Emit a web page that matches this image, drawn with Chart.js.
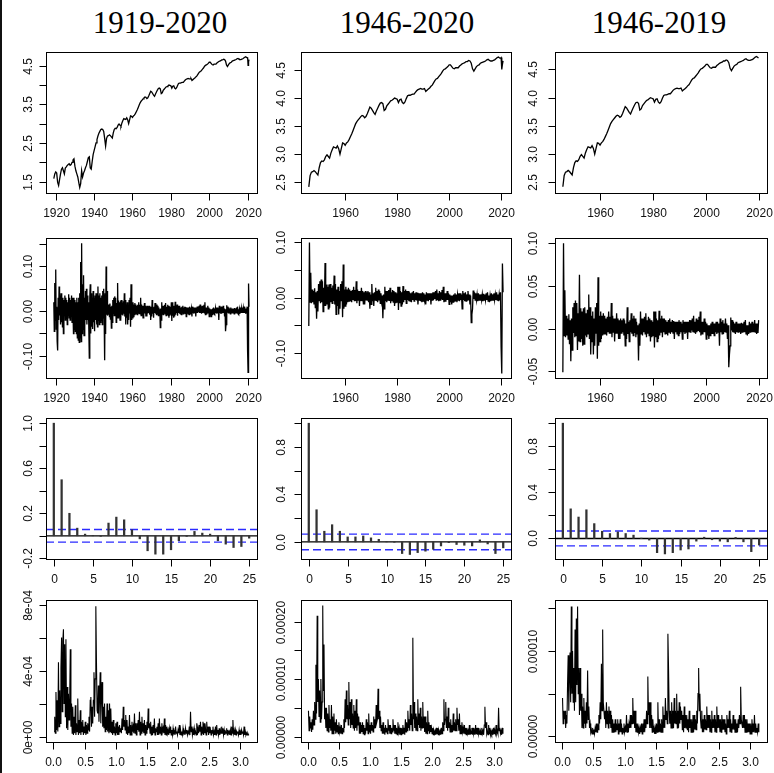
<!DOCTYPE html>
<html>
<head>
<meta charset="utf-8">
<script src="https://cdn.jsdelivr.net/npm/chart.js@4.4.1/dist/chart.umd.min.js"></script>
<style>
  body { margin: 0; background: #fff; width: 774px; height: 773px; position: relative; overflow: hidden; }
  .title { position: absolute; top: 7px; width: 200px; text-align: center; font: 31px "Liberation Serif", "Times New Roman", serif; line-height: 31px; color: #000; }
  canvas { position: absolute; }
  #edge { position: absolute; left: 0; top: 0; width: 2px; height: 773px; background: #111; }
</style>
</head>
<body>
<div id="edge"></div>
<div class="title" style="left:60px">1919-2020</div>
<div class="title" style="left:307px">1946-2020</div>
<div class="title" style="left:559px">1946-2019</div>
<script>
// log industrial production, half-yearly readings 1919.0 - 2019.5
const ipStart = 1919, ipStep = 0.5;
const logIP = [
  1.58,1.70,1.75,1.72,1.48,1.40,1.55,1.70,1.82,1.86,1.78,1.70,1.85,1.88,1.92,1.94,1.96,1.92,1.94,2.00,
  2.06,2.09,1.90,1.78,1.70,1.62,1.48,1.35,1.45,1.78,1.62,1.72,1.78,1.86,1.92,2.02,2.12,2.14,1.85,1.82,
  2.02,2.20,2.30,2.40,2.50,2.59,2.68,2.75,2.80,2.85,2.86,2.85,2.80,2.62,2.42,2.62,2.68,2.69,2.71,2.69,
  2.66,2.63,2.76,2.85,2.88,2.87,2.90,2.96,2.99,2.96,2.93,3.02,3.08,3.13,3.12,3.11,3.15,3.10,3.00,3.10,
  3.20,3.19,3.16,3.20,3.22,3.26,3.31,3.36,3.42,3.48,3.54,3.58,3.61,3.64,3.67,3.69,3.68,3.65,3.67,3.72,
  3.78,3.84,3.82,3.78,3.74,3.71,3.77,3.82,3.87,3.91,3.92,3.90,3.78,3.80,3.86,3.89,3.92,3.95,3.96,3.98,
  4.00,3.99,3.98,3.92,3.97,3.98,3.92,3.90,3.93,3.99,4.04,4.05,4.05,4.06,4.07,4.07,4.10,4.13,4.15,4.16,
  4.17,4.16,4.16,4.17,4.12,4.14,4.16,4.18,4.21,4.23,4.27,4.31,4.34,4.35,4.38,4.41,4.44,4.48,4.51,4.52,
  4.54,4.56,4.59,4.59,4.56,4.53,4.52,4.54,4.54,4.54,4.57,4.59,4.61,4.62,4.63,4.65,4.65,4.67,4.66,4.62,
  4.52,4.48,4.52,4.56,4.58,4.59,4.62,4.63,4.64,4.65,4.66,4.68,4.69,4.67,4.66,4.66,4.67,4.68,4.70,4.72,
  4.73,4.71
];
// the 2020 drop needs quarterly detail
const logIPTailYears = [2019.75, 2020.0, 2020.25, 2020.5, 2020.75];
const logIPTail = [4.71, 4.72, 4.51, 4.60, 4.66];

// growth rates, quarterly readings
const growthStep = 0.25;
const growth1919 = [ // 1919.0 - 1945.75
  0.020,-0.045,0.063,-0.020,  0.093,-0.040,0.010,-0.068,  -0.088,0.030,-0.020,0.055,
  -0.010,0.035,-0.030,0.040,  -0.025,0.020,-0.035,0.030,  -0.050,0.025,-0.010,0.035,
  -0.020,0.030,-0.015,0.025,  -0.030,0.020,-0.010,0.038,  -0.015,0.030,-0.020,0.025,
  -0.010,0.035,-0.025,0.030,  0.020,-0.050,0.030,-0.040,  0.025,-0.045,0.020,-0.050,
  0.030,-0.060,0.020,-0.065,  0.030,-0.070,0.040,-0.060,  0.110,-0.068,0.152,-0.050,
  0.060,-0.040,0.080,-0.055,  0.030,-0.035,0.045,-0.020,  0.050,-0.030,0.035,-0.020,
  0.020,-0.040,-0.105,0.030,  0.060,-0.050,0.040,-0.035,  0.030,-0.040,0.045,-0.025,
  0.030,-0.045,0.035,-0.020,  0.040,-0.030,0.025,-0.035,  0.055,-0.020,0.035,-0.030,
  0.040,-0.025,0.030,-0.020,  0.035,-0.030,0.045,-0.015,  0.050,-0.020,-0.110,0.040
];
const growth1946 = [ // 1946.0 - 2020.75
  -0.051,0.100,-0.008,0.045,  -0.010,0.015,-0.008,0.012,  -0.012,0.017,-0.018,0.010,
  -0.038,0.012,-0.025,0.025,  -0.005,0.030,-0.010,0.033,  -0.008,0.030,-0.025,0.018,
  -0.015,0.063,-0.015,0.024,  -0.012,0.020,-0.020,0.024,  -0.018,0.025,-0.008,0.018,
  -0.010,0.022,-0.006,0.040,  -0.012,0.025,-0.030,0.015,  -0.015,0.020,-0.030,0.012,
  -0.020,0.025,-0.005,0.030,  -0.035,0.060,-0.020,0.015,  -0.015,0.020,-0.012,0.015,
  -0.008,0.018,-0.006,0.015,  -0.006,0.012,-0.008,0.014,  -0.004,0.020,-0.005,0.014,
  -0.006,0.030,-0.010,0.015,  -0.004,0.012,-0.015,0.012,  -0.006,0.018,-0.005,0.012,
  -0.012,0.010,-0.012,0.012,  -0.005,0.010,-0.004,0.012,  -0.008,0.010,-0.020,0.006,
  -0.012,0.025,-0.006,0.008,  -0.015,0.010,-0.004,0.018,  -0.006,0.012,-0.008,0.015,
  -0.005,0.012,-0.010,0.008,  -0.006,0.004,-0.037,0.006,  -0.020,0.020,-0.006,0.012,
  -0.008,0.012,-0.004,0.014,  -0.006,0.018,-0.010,0.010,  -0.006,0.014,-0.008,0.012,
  -0.015,0.010,-0.010,0.008,  -0.008,0.020,-0.022,0.020,  -0.010,0.012,-0.015,0.010,
  -0.012,0.021,-0.008,0.012,  -0.004,0.015,-0.010,0.012,  -0.004,0.012,-0.006,0.010,
  -0.006,0.008,-0.008,0.010,  -0.004,0.012,-0.006,0.008,  -0.004,0.010,-0.005,0.009,
  -0.012,0.008,-0.004,0.008,  -0.006,0.008,-0.008,0.010,  -0.006,0.008,-0.004,0.006,
  -0.012,0.010,-0.004,0.008,  -0.006,0.008,-0.004,0.008,  -0.012,0.008,-0.004,0.010,
  -0.004,0.010,-0.002,0.012,  -0.004,0.015,-0.004,0.008,  -0.006,0.012,-0.004,0.010,
  -0.002,0.014,-0.004,0.020,  -0.008,0.008,-0.006,0.008,  -0.004,0.012,-0.004,0.008,
  -0.012,0.006,-0.008,0.004,  -0.012,0.004,-0.008,0.006,  -0.006,0.008,-0.006,0.006,
  -0.008,0.006,-0.004,0.008,  -0.006,0.008,-0.004,0.006,  -0.020,0.012,-0.004,0.008,
  -0.006,0.010,-0.006,0.006,  -0.004,0.012,-0.004,0.006,  -0.012,0.004,-0.045,-0.030,
  -0.020,0.013,-0.002,0.010,  -0.004,0.008,-0.004,0.006,  -0.006,0.008,-0.004,0.006,
  -0.004,0.006,-0.004,0.006,  -0.006,0.007,-0.004,0.006,  -0.004,0.008,-0.004,0.010,
  -0.006,0.004,-0.008,0.004,  -0.006,0.008,-0.004,0.006,  -0.004,0.008,-0.004,0.006,
  -0.004,0.010,-0.004,0.006,  -0.006,0.006,-0.005,0.010,  -0.090,-0.137,0.062,0.010
];

// sample autocorrelations, lags 0..25
const lags = [0,1,2,3,4,5,6,7,8,9,10,11,12,13,14,15,16,17,18,19,20,21,22,23,24,25];
const acf1919 = [1.0,0.498,0.20,0.068,0.015,0.003,-0.005,0.113,0.166,0.142,0.053,-0.027,-0.133,
  -0.163,-0.163,-0.124,-0.044,-0.005,0.039,0.024,0.015,-0.044,-0.074,-0.104,-0.095,-0.021];
const acf1946to2020 = [1.0,0.271,0.09,0.145,0.09,0.042,0.042,0.05,0.034,0.022,0.003,-0.003,-0.098,
  -0.106,-0.09,-0.078,-0.062,-0.034,-0.006,-0.022,-0.028,-0.034,0.017,-0.017,-0.098,-0.05];
const acf1946to2019 = [1.0,0.257,0.186,0.249,0.129,0.063,0.043,0.057,0.043,0.029,0.003,-0.014,-0.123,
  -0.134,-0.123,-0.10,-0.091,-0.023,0.011,-0.011,-0.023,-0.029,0.009,-0.029,-0.114,-0.057];
const acfBands = [0.056, 0.066, 0.065];

// periodograms at 0.01, 0.02, ..., 3.14
const pgStart = 0.01, pgStep = 0.01;
const pgram1919 = [ // x 1e-4
  0.3,1.2,0.2,2.7,0.4,2.2,0.3,4.5,0.6,2.8,  0.8,4.2,6.0,1.5,5.8,6.5,2.0,5.6,1.2,5.9,
  0.5,3.0,0.4,2.6,1.0,2.2,5.3,0.6,2.0,0.2,  1.8,0.1,1.2,0.2,1.9,0.1,0.8,0.3,2.3,0.1,
  1.0,0.2,1.6,0.1,0.9,0.3,1.0,0.1,0.6,0.2,  0.9,0.1,0.7,0.2,0.8,0.4,1.2,0.3,2.2,2.4,
  0.6,1.8,0.8,2.2,3.9,1.2,3.5,7.9,4.5,1.6,  1.4,3.1,0.9,2.4,3.9,0.8,2.6,3.3,0.6,1.8,
  0.5,2.0,0.3,1.2,0.4,2.0,0.3,1.6,0.2,2.0,  0.3,1.7,0.2,0.9,0.1,1.0,0.2,0.6,0.1,0.8,
  0.2,0.9,0.1,0.6,0.1,0.7,0.3,0.5,0.2,1.1,  0.4,1.8,0.6,1.0,0.4,1.3,0.2,1.0,0.1,0.6,
  0.2,1.3,0.1,0.7,0.1,0.9,0.3,0.6,0.2,1.4,  0.2,0.8,0.1,0.8,0.4,1.0,0.3,1.5,0.1,0.9,
  0.2,1.2,0.3,0.8,0.2,1.0,0.1,0.7,0.2,0.9,  0.4,1.7,0.5,0.8,0.2,0.9,0.1,0.6,0.1,0.7,
  0.2,1.1,0.1,0.5,0.3,0.6,0.1,0.8,0.1,1.1,  0.2,0.6,0.1,0.8,0.3,0.5,0.2,1.1,0.1,0.7,
  0.1,0.6,0.2,0.4,0.1,0.5,0.2,0.6,0.1,0.4,  0.1,0.5,0.2,0.3,0.1,0.6,0.2,0.3,0.1,0.4,
  0.2,0.7,0.1,0.4,0.1,0.3,0.1,0.5,0.2,0.3,  0.1,0.5,0.2,0.4,0.1,0.3,0.2,0.6,0.1,1.5,
  0.3,0.6,0.1,0.4,0.1,0.5,0.2,0.3,0.1,0.8,  0.1,0.5,0.2,0.7,0.3,0.9,0.1,0.6,0.2,0.9,
  0.1,0.8,0.2,0.5,0.1,0.9,0.3,0.6,0.1,0.6,  0.2,0.4,0.1,0.4,0.2,0.6,0.1,0.3,0.1,0.6,
  0.1,0.7,0.2,0.4,0.1,0.5,0.1,0.4,0.2,0.6,  0.2,0.5,0.1,0.4,0.1,0.3,0.2,0.5,0.1,0.4,
  0.2,0.3,0.1,0.4,0.1,0.6,0.2,1.0,0.2,0.4,  0.1,0.4,0.1,0.3,0.2,0.3,0.1,0.4,0.1,0.3,
  0.1,0.4,0.2,0.3,0.1,0.6,0.1,0.3,0.1,0.2,  0.1,0.2,0.1,0.1
];
const pgram1946to2020 = [ // x 1e-5
  4.5,1.0,3.5,1.5,2.5,0.8,3.0,1.2,4.5,2.0,  6.0,3.0,12.5,4.0,21.0,6.0,10.0,3.5,8.0,2.5,
  10.0,3.0,6.0,22.8,8.0,16.0,3.0,5.0,1.5,5.0,  1.0,4.0,0.8,5.5,1.5,3.0,1.0,5.5,0.5,3.5,
  0.5,4.0,1.0,2.5,0.5,3.0,0.8,2.0,0.5,2.5,  0.8,1.5,0.5,2.0,0.5,1.5,0.8,3.0,1.5,6.5,
  2.5,8.0,3.0,5.5,2.0,9.5,3.0,6.0,1.5,6.5,  2.0,4.0,1.5,5.5,1.0,4.5,1.5,6.5,1.0,4.0,
  2.0,3.5,0.5,2.5,0.5,2.0,0.8,2.5,0.5,2.0,  0.3,1.5,0.5,3.0,1.0,2.5,0.5,4.0,0.8,2.0,
  0.5,2.5,1.0,2.0,0.8,3.5,1.5,3.0,1.5,5.5,  2.5,3.0,8.3,3.0,4.5,1.5,3.5,1.0,2.0,0.5,
  2.5,0.5,1.5,0.3,2.0,0.8,1.5,0.5,3.0,1.0,  2.0,0.5,2.0,0.5,1.5,0.8,3.0,1.0,2.0,0.5,
  2.0,0.5,1.5,0.3,2.5,0.8,1.5,0.3,1.5,0.3,  1.5,0.5,2.0,0.5,1.5,0.3,3.0,0.8,2.5,1.0,
  4.5,1.5,3.0,1.0,5.5,2.0,4.0,1.0,17.2,3.0,  6.0,1.5,4.0,1.0,3.5,1.0,6.5,2.0,4.0,1.5,
  5.0,1.0,3.5,1.5,6.0,1.5,3.5,0.8,3.5,0.5,  2.5,0.5,4.5,1.0,2.5,0.5,2.0,0.8,1.5,0.5,
  1.5,0.3,1.0,0.5,1.0,0.3,1.5,0.5,1.5,0.3,  1.0,0.5,1.0,0.3,1.5,0.5,2.5,1.0,6.5,2.0,
  3.0,6.0,1.5,3.5,1.0,5.0,1.5,2.5,0.8,3.0,  0.8,2.0,0.8,4.0,1.0,2.5,1.0,3.0,1.0,5.0,
  2.0,3.0,1.0,4.0,0.5,2.0,0.5,2.5,0.8,1.5,  0.5,2.0,0.5,1.5,0.3,1.5,0.5,1.0,0.3,2.0,
  0.3,1.0,0.5,1.5,0.3,1.5,0.5,1.0,0.3,2.0,  0.5,1.5,0.3,1.5,0.5,1.0,0.3,1.0,0.3,1.5,
  0.5,1.0,0.3,2.0,5.2,1.5,2.5,0.5,1.0,0.3,  2.0,0.5,1.5,0.3,1.0,0.5,1.0,0.3,1.5,0.5,
  1.0,0.5,2.0,0.5,1.0,0.5,5.0,1.0,1.5,0.5,  1.0,0.3,1.5,0.5
];
const pgram1946to2019 = [ // x 1e-5
  4.5,1.5,3.0,2.0,3.0,1.0,2.5,1.5,6.0,9.5,  3.0,7.0,9.8,4.0,15.2,5.0,10.0,4.0,8.0,3.0,
  12.5,4.0,13.8,6.0,15.2,5.0,8.0,2.5,8.0,3.0,  5.0,1.0,3.5,1.0,4.5,1.5,3.0,1.0,4.0,1.5,
  7.7,2.0,3.5,1.0,1.5,0.5,0.8,0.3,1.0,0.3,  0.8,0.3,1.0,0.5,1.5,0.5,1.5,0.8,2.5,1.5,
  4.0,2.0,8.5,3.0,12.5,4.0,4.0,2.0,3.0,1.0,  4.0,1.5,3.0,1.0,3.5,1.5,3.0,1.0,2.5,0.5,
  2.0,0.5,1.5,0.5,2.0,0.5,1.5,0.8,2.0,0.3,  1.5,0.5,2.0,0.5,1.5,0.3,1.0,0.5,1.5,0.5,
  1.0,0.5,2.5,0.5,1.5,0.5,1.5,1.0,2.5,1.0,  2.5,1.5,4.5,1.5,3.0,1.0,3.0,0.5,1.5,0.5,
  1.5,0.5,1.0,0.3,1.0,0.5,1.5,0.3,1.5,0.5,  2.0,0.5,2.0,1.0,3.0,1.5,7.0,2.5,4.0,1.0,
  4.0,1.0,2.5,0.5,2.0,0.5,1.0,0.3,1.0,0.3,  1.5,0.5,4.0,0.5,2.0,0.5,1.5,0.5,2.0,0.5,
  3.5,1.0,2.5,1.0,4.5,2.0,3.0,1.5,12.0,8.0,  3.0,1.5,3.0,1.0,4.0,1.0,3.0,1.0,4.5,1.5,
  3.0,1.5,5.0,1.0,3.0,1.0,4.0,1.5,3.5,2.0,  3.0,0.8,2.5,0.5,3.5,1.0,2.5,1.0,2.5,0.8,
  2.0,0.5,3.0,1.0,2.0,0.5,2.0,0.5,2.5,0.5,  2.5,0.8,2.0,0.8,3.0,1.5,5.0,8.0,3.0,5.0,
  2.0,1.0,3.0,0.5,2.0,0.5,2.5,0.8,2.0,0.8,  3.5,1.0,2.5,1.0,2.5,0.5,2.0,0.5,3.0,1.0,
  2.0,1.0,2.5,0.5,2.0,0.5,3.5,1.0,2.5,1.0,  2.0,0.5,2.0,0.5,2.5,0.8,2.0,0.8,2.0,0.5,
  1.5,0.3,2.5,1.0,2.0,1.0,3.0,0.5,2.0,0.5,  1.5,0.8,2.5,0.8,2.0,0.5,2.0,0.5,1.5,0.5,
  2.0,1.0,2.5,1.5,5.8,2.0,2.0,1.0,2.5,1.0,  2.5,0.5,2.0,0.5,2.0,0.5,1.5,0.5,1.5,0.3,
  1.5,0.3,2.0,0.5,1.5,0.5,2.5,0.5,1.5,0.5,  1.0,0.5,1.5,0.5
];

// axis ticks and their labels ('' = tick without label)
const yearTicksLong = [1920, 1940, 1960, 1980, 2000, 2020];
const yearLabelsLong = ['1920', '1940', '1960', '1980', '2000', '2020'];
const yearTicksPost = [1960, 1980, 2000, 2020];
const yearLabelsPost = ['1960', '1980', '2000', '2020'];
const lagTicks = [0, 5, 10, 15, 20, 25];
const lagLabels = ['0', '5', '10', '15', '20', '25'];
const freqTicks = [0, 0.5, 1, 1.5, 2, 2.5, 3];
const freqLabels = ['0.0', '0.5', '1.0', '1.5', '2.0', '2.5', '3.0'];

const levelTicks1919 = [1.5, 2, 2.5, 3, 3.5, 4, 4.5];
const levelLabels1919 = ['1.5', '', '2.5', '', '3.5', '', '4.5'];
const levelTicks1946 = [2.5, 3, 3.5, 4, 4.5];
const levelLabels1946 = ['2.5', '3.0', '3.5', '4.0', '4.5'];
const growthTicks1919 = [-0.1, -0.05, 0, 0.05, 0.1, 0.15];
const growthLabels1919 = ['-0.10', '', '0.00', '', '0.10', ''];
const growthTicks2020 = [-0.1, -0.05, 0, 0.05, 0.1];
const growthLabels2020 = ['-0.10', '', '0.00', '', '0.10'];
const growthTicks2019 = [-0.05, 0, 0.05, 0.1];
const growthLabels2019 = ['-0.05', '0.00', '0.05', '0.10'];
const acfTicks1919 = [-0.2, 0, 0.2, 0.4, 0.6, 0.8, 1.0];
const acfLabels1919 = ['-0.2', '', '0.2', '', '0.6', '', '1.0'];
const acfTicks1946 = [0, 0.2, 0.4, 0.6, 0.8, 1.0];
const acfLabels1946 = ['0.0', '', '0.4', '', '0.8', ''];
const pgTicks1919 = [0, 2e-4, 4e-4, 6e-4, 8e-4];
const pgLabels1919 = ['0e+00', '', '4e-04', '', '8e-04'];
const pgTicks2020 = [0, 5e-5, 1e-4, 1.5e-4, 2e-4];
const pgLabels2020 = ['0.00000', '', '0.00010', '', '0.00020'];
const pgTicks2019 = [0, 5e-5, 1e-4, 1.5e-4];
const pgLabels2019 = ['0.00000', '', '0.00010', ''];

// ---------------------------------------------------------------------------

const TICK = 7;
const PAD = { left: 45, top: 12, right: 6, bottom: 32 };
const cols = [
  { l: 46, r: 257, gap: 18 },
  { l: 301, r: 511, gap: 20 },
  { l: 555, r: 767, gap: 22 }
];
const rows = [
  { t: 52, b: 193 },
  { t: 238, b: 378 },
  { t: 418, b: 559 },
  { t: 600, b: 742 }
];

function series(start, step, values, scale = 1) {
  return values.map((v, i) => ({ x: start + i * step, y: v * scale }));
}

const levelAll = series(ipStart, ipStep, logIP)
  .concat(logIPTailYears.map((yr, i) => ({ x: yr, y: logIPTail[i] })));
const growthAll = series(1919, growthStep, growth1919.concat(growth1946));

// box, tick marks and labels drawn the way base graphics does it
const rAxes = {
  id: 'rAxes',
  afterDraw(chart, _args, opts) {
    const { ctx, chartArea: area, scales } = chart;
    const left = Math.round(area.left) + 0.5, right = Math.round(area.right) + 0.5;
    const top = Math.round(area.top) + 0.5, bottom = Math.round(area.bottom) + 0.5;
    ctx.save();
    ctx.strokeStyle = '#000';
    ctx.lineWidth = 1;
    ctx.strokeRect(left, top, right - left, bottom - top);

    ctx.fillStyle = '#111';
    ctx.font = '12px "Liberation Sans", Arial, sans-serif';
    ctx.textAlign = 'center';
    ctx.textBaseline = 'middle';

    const xs = opts.xTicks.map(v => Math.round(scales.x.getPixelForValue(v)) + 0.5);
    ctx.beginPath();
    ctx.moveTo(xs[0], bottom);
    ctx.lineTo(xs[xs.length - 1], bottom);
    xs.forEach(px => { ctx.moveTo(px, bottom); ctx.lineTo(px, bottom + TICK); });
    ctx.stroke();
    xs.forEach((px, i) => {
      if (opts.xLabels[i]) ctx.fillText(opts.xLabels[i], px, bottom + 20);
    });

    const ys = opts.yTicks.map(v => Math.round(scales.y.getPixelForValue(v)) + 0.5);
    ctx.beginPath();
    ctx.moveTo(left, ys[0]);
    ctx.lineTo(left, ys[ys.length - 1]);
    ys.forEach(py => { ctx.moveTo(left, py); ctx.lineTo(left - TICK, py); });
    ctx.stroke();
    ys.forEach((py, i) => {
      if (!opts.yLabels[i]) return;
      ctx.save();
      ctx.translate(left - opts.gap, py);
      ctx.rotate(-Math.PI / 2);
      ctx.fillText(opts.yLabels[i], 0, 0);
      ctx.restore();
    });
    ctx.restore();
  }
};

function makePanel(row, col, p) {
  const box = { l: cols[col].l, r: cols[col].r, t: rows[row].t, b: rows[row].b };
  const canvas = document.createElement('canvas');
  canvas.width = box.r - box.l + PAD.left + PAD.right;
  canvas.height = box.b - box.t + PAD.top + PAD.bottom;
  canvas.style.left = (box.l - PAD.left) + 'px';
  canvas.style.top = (box.t - PAD.top) + 'px';
  document.body.appendChild(canvas);

  new Chart(canvas, {
    type: p.type || 'line',
    data: { datasets: p.datasets },
    options: {
      responsive: false,
      animation: false,
      devicePixelRatio: 1,
      events: [],
      layout: { padding: PAD },
      scales: {
        x: { type: 'linear', display: false, min: p.x[0], max: p.x[1], offset: false },
        y: { type: 'linear', display: false, min: p.y[0], max: p.y[1] }
      },
      plugins: {
        legend: { display: false },
        tooltip: { enabled: false },
        rAxes: {
          xTicks: p.xTicks, xLabels: p.xLabels,
          yTicks: p.yTicks, yLabels: p.yLabels, gap: cols[col].gap
        }
      }
    },
    plugins: [rAxes]
  });
}

function trace(points, width) {
  return { data: points, borderColor: '#000', borderWidth: width, pointRadius: 0, tension: 0, fill: false };
}

function acfSets(values, band, xr) {
  const flat = (y, color, dash) => ({
    type: 'line', data: [{ x: xr[0], y }, { x: xr[1], y }], borderColor: color,
    borderWidth: 1.3, borderDash: dash, pointRadius: 0, fill: false
  });
  return [
    { type: 'bar', data: lags.map((l, i) => ({ x: l, y: values[i] })),
      backgroundColor: '#333', barThickness: 1.6 },
    flat(0, '#000', []),
    flat(band, '#2b2bff', [8, 4]),
    flat(-band, '#2b2bff', [8, 4])
  ];
}

const upTo = (pts, yr) => pts.filter(pt => pt.x <= yr);
const from = (pts, yr) => pts.filter(pt => pt.x >= yr);

// row 1: levels
makePanel(0, 0, { datasets: [trace(levelAll, 1.3)], x: [1914.93, 2024.9], y: [1.205, 4.855],
  xTicks: yearTicksLong, xLabels: yearLabelsLong, yTicks: levelTicks1919, yLabels: levelLabels1919 });
makePanel(0, 1, { datasets: [trace(from(levelAll, 1946), 1.3)], x: [1943.0, 2023.8], y: [2.31, 4.82],
  xTicks: yearTicksPost, xLabels: yearLabelsPost, yTicks: levelTicks1946, yLabels: levelLabels1946 });
makePanel(0, 2, { datasets: [trace(upTo(from(levelAll, 1946), 2019.9), 1.3)], x: [1943.04, 2022.9], y: [2.31, 4.81],
  xTicks: yearTicksPost, xLabels: yearLabelsPost, yTicks: levelTicks1946, yLabels: levelLabels1946 });

// row 2: growth rates
makePanel(1, 0, { datasets: [trace(growthAll, 1.3)], x: [1914.93, 2024.9], y: [-0.1496, 0.1636],
  xTicks: yearTicksLong, xLabels: yearLabelsLong, yTicks: growthTicks1919, yLabels: growthLabels1919 });
makePanel(1, 1, { datasets: [trace(from(growthAll, 1946), 1.3)], x: [1943.0, 2023.8], y: [-0.145, 0.108],
  xTicks: yearTicksPost, xLabels: yearLabelsPost, yTicks: growthTicks2020, yLabels: growthLabels2020 });
makePanel(1, 2, { datasets: [trace(upTo(from(growthAll, 1946), 2019.9), 1.3)], x: [1943.04, 2022.9], y: [-0.0576, 0.106],
  xTicks: yearTicksPost, xLabels: yearLabelsPost, yTicks: growthTicks2019, yLabels: growthLabels2019 });

// row 3: autocorrelations
makePanel(2, 0, { type: 'bar', datasets: acfSets(acf1919, acfBands[0], [-1, 26]), x: [-1, 26], y: [-0.206, 1.046],
  xTicks: lagTicks, xLabels: lagLabels, yTicks: acfTicks1919, yLabels: acfLabels1919 });
makePanel(2, 1, { type: 'bar', datasets: acfSets(acf1946to2020, acfBands[1], [-1, 26]), x: [-1, 26], y: [-0.144, 1.044],
  xTicks: lagTicks, xLabels: lagLabels, yTicks: acfTicks1946, yLabels: acfLabels1946 });
makePanel(2, 2, { type: 'bar', datasets: acfSets(acf1946to2019, acfBands[2], [-1, 26]), x: [-1, 26], y: [-0.178, 1.045],
  xTicks: lagTicks, xLabels: lagLabels, yTicks: acfTicks1946, yLabels: acfLabels1946 });

// row 4: periodograms
makePanel(3, 0, { datasets: [trace(series(pgStart, pgStep, pgram1919, 1e-4), 1.1)], x: [-0.12, 3.267], y: [-0.33e-4, 8.28e-4],
  xTicks: freqTicks, xLabels: freqLabels, yTicks: pgTicks1919, yLabels: pgLabels1919 });
makePanel(3, 1, { datasets: [trace(series(pgStart, pgStep, pgram1946to2020, 1e-5), 1.1)], x: [-0.11, 3.27], y: [-0.95e-5, 23.75e-5],
  xTicks: freqTicks, xLabels: freqLabels, yTicks: pgTicks2020, yLabels: pgLabels2020 });
makePanel(3, 2, { datasets: [trace(series(pgStart, pgStep, pgram1946to2019, 1e-5), 1.1)], x: [-0.11, 3.27], y: [-0.65e-5, 15.95e-5],
  xTicks: freqTicks, xLabels: freqLabels, yTicks: pgTicks2019, yLabels: pgLabels2019 });
</script>
</body>
</html>
